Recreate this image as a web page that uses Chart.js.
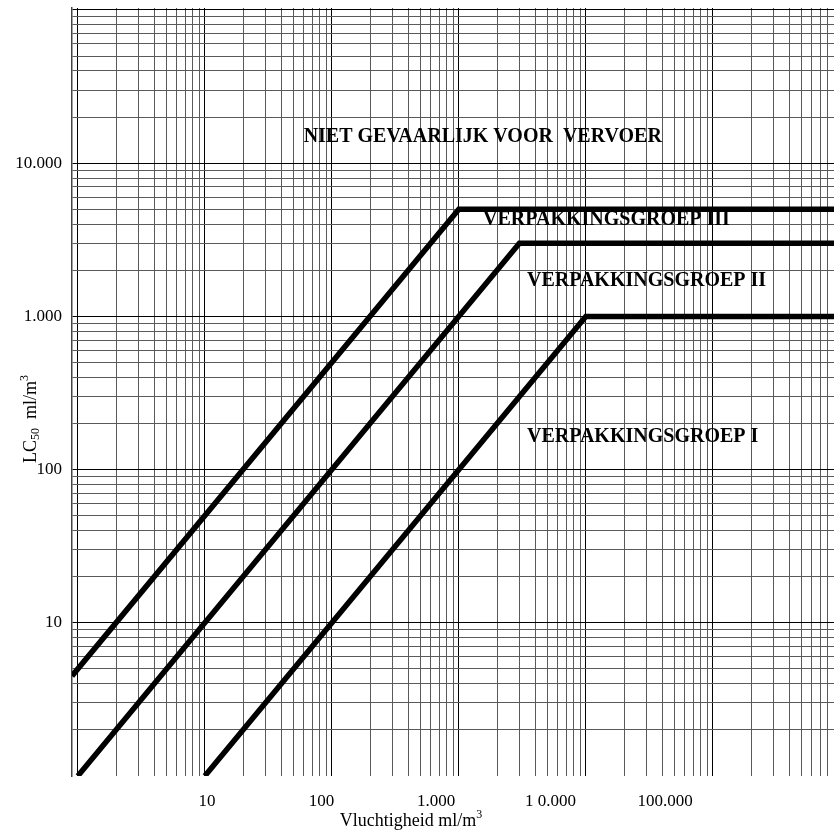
<!DOCTYPE html>
<html>
<head>
<meta charset="utf-8">
<script src="https://cdn.jsdelivr.net/npm/chart.js@4.4.1/dist/chart.umd.min.js"></script>
<style>
  html, body { margin: 0; padding: 0; background: #fff; }
  #wrap { width: 834px; height: 840px; }
</style>
</head>
<body>
<div id="wrap"><canvas id="myChart" width="834" height="840"></canvas></div>
<script>
// boundary lines between the groups (corner points)
const groupIII_x = [0.9, 1000, 900000];
const groupIII_y = [4.5, 5000, 5000];
const groupII_x = [1, 3000, 900000];
const groupII_y = [1, 3000, 3000];
const groupI_x = [10, 10000, 900000];
const groupI_y = [1, 1000, 1000];

// log paper: each decade split 1..9
const decadesX = [1, 10, 100, 1000, 10000, 100000];
const decadesY = [1, 10, 100, 1000, 10000, 100000];
const steps = [1, 2, 3, 4, 5, 6, 7, 8, 9];

// tick labels as printed
const xTickValues = [10, 100, 1000, 10000, 100000];
const xTickLabels = ['10', '100', '1.000', '1 0.000', '100.000'];
const yTickValues = [10, 100, 1000, 10000];
const yTickLabels = ['10', '100', '1.000', '10.000'];

// region names and where they sit (in data units)
const regionNames = ['NIET GEVAARLIJK VOOR  VERVOER', 'VERPAKKINGSGROEP III', 'VERPAKKINGSGROEP II', 'VERPAKKINGSGROEP I'];
const regionX = [60, 1550, 3440, 3440];
const regionY = [13800, 3950, 1580, 152];

const X_MIN = 0.9, X_MAX = 900000;
const Y_MIN = 1, Y_MAX = 103000;

function gridValues(decades, min, max) {
  let vals = [];
  for (let i = 0; i < decades.length; i++) {
    for (let j = 0; j < steps.length; j++) {
      const v = decades[i] * steps[j];
      if (v > min && v <= max) vals.push(v);
    }
  }
  return vals;
}

function toPoints(xs, ys) {
  let pts = [];
  for (let i = 0; i < xs.length; i++) {
    pts.push({x: xs[i], y: ys[i]});
  }
  return pts;
}

function gridColor(ctx, decades) {
  if (!ctx.tick) return '#555';
  return decades.includes(ctx.tick.value) ? '#000' : '#5a5a5a';
}

// draws text pieces one after another, with sub/superscripts
function drawPieces(ctx, pieces, x, y) {
  let cx = x;
  for (let i = 0; i < pieces.length; i++) {
    const p = pieces[i];
    ctx.font = p.size + 'px "Liberation Serif"';
    ctx.fillText(p.t, cx, y + (p.dy || 0));
    cx += ctx.measureText(p.t).width;
  }
}
function piecesWidth(ctx, pieces) {
  let w = 0;
  for (let i = 0; i < pieces.length; i++) {
    ctx.font = pieces[i].size + 'px "Liberation Serif"';
    w += ctx.measureText(pieces[i].t).width;
  }
  return w;
}

const xTitle = [{t: 'Vluchtigheid ml/m', size: 18}, {t: '3', size: 12, dy: -8}];
const yTitle = [{t: 'LC', size: 18}, {t: '50', size: 12, dy: 3}, {t: '  ml/m', size: 18}, {t: '3', size: 12, dy: -8}];

const chartText = {
  id: 'chartText',
  afterDatasetsDraw(chart) {
    const ctx = chart.ctx;
    const xs = chart.scales.x, ys = chart.scales.y;
    ctx.save();
    ctx.fillStyle = '#000';
    ctx.textBaseline = 'alphabetic';
    ctx.textAlign = 'left';
    ctx.font = 'bold 20px "Liberation Serif"';
    for (let i = 0; i < regionNames.length; i++) {
      ctx.fillText(regionNames[i], xs.getPixelForValue(regionX[i]), ys.getPixelForValue(regionY[i]));
    }

    // x title
    const wx = piecesWidth(ctx, xTitle);
    drawPieces(ctx, xTitle, 411 - wx / 2, 826);

    // y title, rotated
    const wy = piecesWidth(ctx, yTitle);
    ctx.translate(36, 419);
    ctx.rotate(-Math.PI / 2);
    drawPieces(ctx, yTitle, -wy / 2, 0);
    ctx.restore();
  }
};

const tickFont = {family: '"Liberation Serif"', size: 17};

const ctx = document.getElementById('myChart');

new Chart(ctx, {
  type: 'line',
  data: {
    datasets: [
      {label: 'Verpakkingsgroep III', data: toPoints(groupIII_x, groupIII_y)},
      {label: 'Verpakkingsgroep II', data: toPoints(groupII_x, groupII_y)},
      {label: 'Verpakkingsgroep I', data: toPoints(groupI_x, groupI_y)}
    ]
  },
  options: {
    responsive: false,
    animation: false,
    layout: {padding: {top: 8, right: 0, left: 0, bottom: 0}},
    elements: {
      line: {borderColor: '#000', borderWidth: 5.5, tension: 0, fill: false},
      point: {radius: 0}
    },
    plugins: {
      legend: {display: false},
      tooltip: {enabled: false}
    },
    scales: {
      x: {
        type: 'logarithmic',
        min: X_MIN,
        max: X_MAX,
        afterBuildTicks: axis => {
          axis.ticks = gridValues(decadesX, X_MIN, X_MAX).map(v => ({value: v}));
        },
        afterFit: axis => {
          axis.height = 0;
          axis.paddingLeft = 0;
          axis.paddingRight = 0;
        },
        ticks: {display: false, autoSkip: false},
        grid: {color: c => gridColor(c, decadesX), lineWidth: 1, drawTicks: false},
        border: {display: false}
      },
      // the printed labels sit a bit tighter than the grid in the source,
      // so they get their own axis
      xl: {
        type: 'logarithmic',
        position: 'bottom',
        min: 0.662,
        max: 2990000,
        afterBuildTicks: axis => {
          axis.ticks = xTickValues.map(v => ({value: v}));
        },
        afterFit: axis => {
          axis.height = 64;
          axis.paddingLeft = 0;
          axis.paddingRight = 0;
        },
        ticks: {
          autoSkip: false,
          maxRotation: 0,
          padding: 15,
          color: '#000',
          font: tickFont,
          callback: (v, i) => xTickLabels[i]
        },
        grid: {display: false, drawTicks: false},
        border: {display: false}
      },
      y: {
        type: 'logarithmic',
        min: Y_MIN,
        max: Y_MAX,
        afterBuildTicks: axis => {
          axis.ticks = gridValues(decadesY, Y_MIN, Y_MAX).map(v => ({value: v}));
        },
        afterFit: axis => {
          axis.width = 72;
          axis.paddingTop = 0;
          axis.paddingBottom = 0;
        },
        ticks: {
          autoSkip: false,
          padding: 10,
          color: '#000',
          font: tickFont,
          callback: v => {
            const k = yTickValues.indexOf(v);
            return k < 0 ? '' : yTickLabels[k];
          }
        },
        grid: {color: c => gridColor(c, decadesY), lineWidth: 1, drawTicks: false},
        border: {display: true, color: '#444', width: 1.5}
      }
    }
  },
  plugins: [chartText]
});
</script>
</body>
</html>
